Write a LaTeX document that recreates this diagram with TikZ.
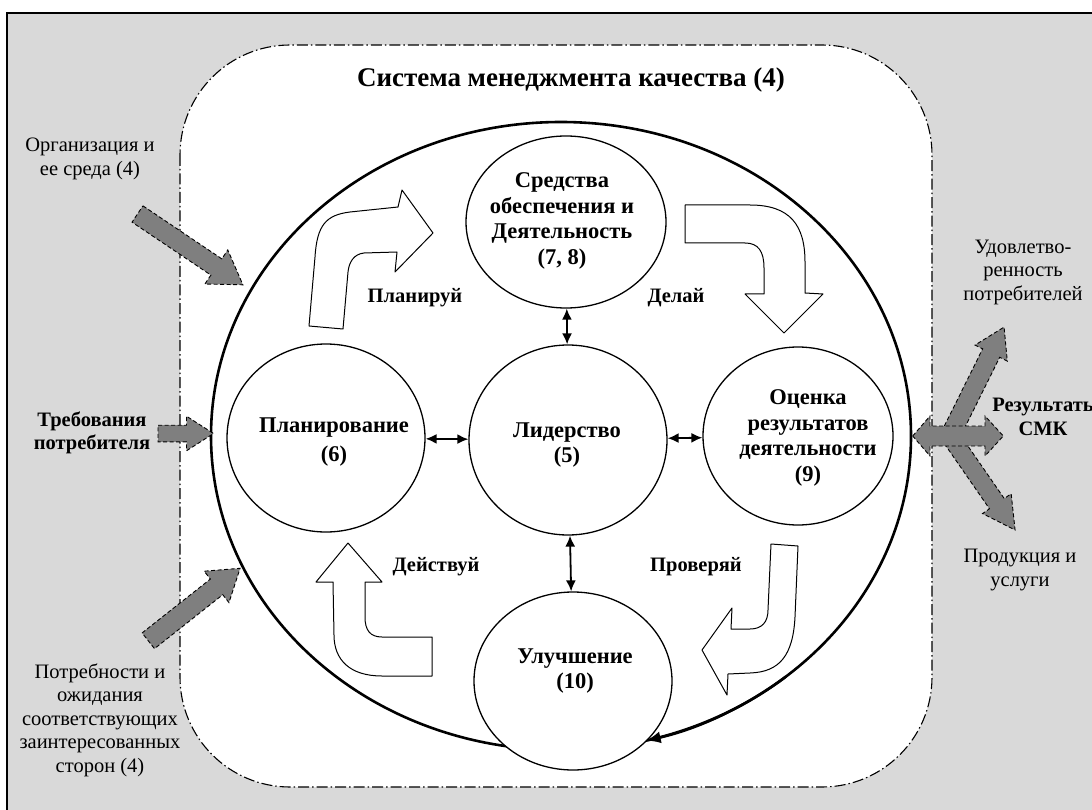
\documentclass[tikz,border=0pt]{standalone}
\usepackage{fontspec}
\setmainfont{Liberation Serif}
\usetikzlibrary{arrows.meta,shapes.geometric}
\definecolor{bggray}{HTML}{D9D9D9}
\definecolor{arrgray}{HTML}{7F7F7F}
\tikzset{
  lbl/.style={font=\fontsize{20.5}{23.5}\selectfont, align=center, inner sep=0pt},
  blbl/.style={font=\bfseries\fontsize{20.5}{23.5}\selectfont, align=center, inner sep=0pt},
  proc/.style={ellipse, draw, line width=1.3pt, fill=white, inner sep=0pt},
  proctext/.style={font=\bfseries\fontsize{22.5}{25.5}\selectfont, align=center, inner sep=0pt},
  dbl/.style={line width=1.8pt, {Latex[length=11pt,width=10pt]}-{Latex[length=11pt,width=10pt]}},
  blk/.style={draw, line width=1pt, fill=white, line join=round},
  garr/.style={draw, fill=arrgray, dashed, line width=0.9pt, dash pattern=on 4pt off 2.5pt},
  ddot/.style={line width=1.1pt, dash pattern=on 11pt off 3pt on 1.5pt off 3pt},
  bigring/.style={line width=2.6pt}
}
\newcommand\garrow[7]{%
  \draw[garr, shift={(#1,#2)}, rotate=#3] (0,-#5) -- ({#4-#7},-#5) -- ({#4-#7},-#6)
    -- (#4,0) -- ({#4-#7},#6) -- ({#4-#7},#5) -- (0,#5) -- cycle;}
\begin{document}
\begin{tikzpicture}[x=1pt,y=-1pt]
\useasboundingbox (0,0) rectangle (1092,810);
% background and frame
\fill[bggray] (7,13) rectangle (1092,810);
\draw[line width=2pt] (7,810) -- (7,13) -- (1092,13);
% QMS boundary
\draw[ddot, fill=white, rounded corners=110pt] (180,45) rectangle (932,787);
\node[font=\bfseries\fontsize{27}{31}\selectfont] (title) at (571,80) {Система менеджмента качества (4)};
% big cycle
\draw[bigring] (561,436) ellipse [x radius=350, y radius=314];
% white block arrows
\draw[blk] (309,326) -- (315,257) .. controls (317,225) and (326,215) .. (350,212) -- (398,207)
  -- (402,190) -- (433,233) -- (395,272) -- (397,252) -- (364,253)
  .. controls (354,254) and (349,262) .. (348,272) -- (343,329) -- cycle;
\draw[blk] (685,205) -- (750,205) .. controls (790,205) and (805,225) .. (805,262) -- (805,293)
  -- (823,294) -- (784,333) -- (745,294) -- (764,294) -- (764,268)
  .. controls (764,251) and (758,243) .. (745,243) -- (685,243) -- cycle;
\draw[blk] (771,544) -- (798,546) -- (795,617) .. controls (793,655) and (780,672) .. (750,673)
  -- (728,674) -- (727,695) -- (702,650) -- (732,608) -- (731,629) -- (750,629)
  .. controls (762,629) and (768,622) .. (768,610) -- cycle;
\draw[blk] (348,543) -- (382,582) -- (365,582) -- (365,617) .. controls (365,630) and (370,637) .. (382,637)
  -- (432,637) -- (432,676) -- (382,676) .. controls (350,676) and (334,660) .. (334,635)
  -- (333,582) -- (316,582) -- cycle;
% process circles
\node[proc, minimum width=200pt, minimum height=172pt] (src) at (566,222) {};
\node[proctext] (srct) at (562,221) {Средства\\обеспечения и\\Деятельность\\(7, 8)};
\node[proc, minimum width=198pt, minimum height=190pt] (lead) at (568,440) {};
\node[proctext] (leadt) at (567,445) {Лидерство\\(5)};
\node[proc, minimum width=198pt, minimum height=188pt] (plan) at (326,438) {};
\node[proctext] (plant) at (334,442) {Планирование\\[4pt](6)};
\node[proc, minimum width=190pt, minimum height=178pt] (eval) at (798,436) {};
\node[proctext] (evalt) at (808,438) {Оценка\\результатов\\деятельности\\(9)};
\node[proc, minimum width=198pt, minimum height=178pt] (impr) at (573,681) {};
\node[proctext] (imprt) at (575,671) {Улучшение\\(10)};
% cycle arrow head at bottom
\draw[bigring, -{Latex[length=15pt,width=12pt]}] ([shift={(561,436)}] 50:350 and 314)
  arc[start angle=50, end angle=76, x radius=350, y radius=314];
% links
\draw[dbl] (plan) -- (lead);
\draw[dbl] (lead) -- (eval);
\draw[dbl] (src) -- (lead);
\draw[dbl] (lead) -- (impr);
% PDCA labels
\node[blbl] (lplan) at (415,298) {Планируй};
\node[blbl] (ldo) at (676,298) {Делай};
\node[blbl] (lact) at (436,567) {Действуй};
\node[blbl] (lcheck) at (696,567) {Проверяй};
% gray input / output arrows
\garrow{137.5}{214}{-33.9}{127}{9.8}{20.5}{32}
\garrow{158}{433.5}{0}{55.5}{8.3}{17.3}{27}
\garrow{148.3}{640.8}{38.3}{117}{10}{20}{30}
\garrow{950}{436}{63.6}{121.6}{9.5}{18}{29}
\garrow{950}{436}{-55.3}{114.3}{9}{17.4}{32}
\draw[garr] (912.7,436) -- (930,416) -- (930,426) -- (985,426) -- (985,416) -- (1003.3,436)
  -- (985,456) -- (985,446) -- (930,446) -- (930,456) -- cycle;
% outside labels
\node[lbl] (org) at (90,159) {Организация и\\ее среда (4)};
\node[blbl] (req) at (92,433) {Требования\\потребителя};
\node[lbl] (needs) at (100,720) {Потребности и\\ожидания\\соответствующих\\заинтересованных\\сторон (4)};
\node[lbl] (sat) at (1023,272) {Удовлетво-\\ренность\\потребителей};
\node[blbl] (res) at (1043,417) {Результать\\СМК};
\node[lbl] (prod) at (1020,570) {Продукция и\\услуги};
\end{tikzpicture}
\end{document}
